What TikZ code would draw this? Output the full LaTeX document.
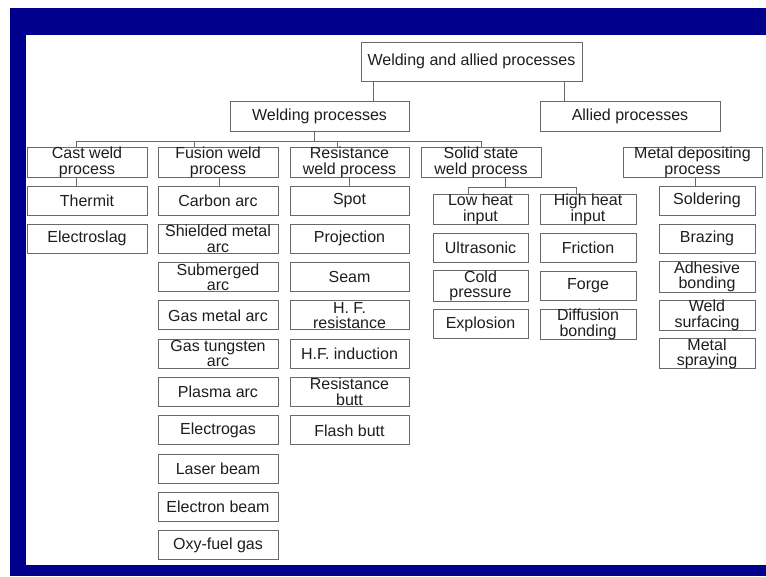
\documentclass[tikz,border=0pt]{standalone}
\usepackage{fontspec}
\setmainfont{Liberation Sans}
\usepackage{tikz}

\definecolor{slideblue}{RGB}{0,0,140}
\definecolor{boxline}{RGB}{105,105,105}
\definecolor{boxtext}{RGB}{30,30,30}

\tikzset{
  proc/.style={draw=boxline, line width=1pt, fill=white, text=boxtext,
    align=center, inner sep=0pt, minimum height=29pt, minimum width=#1,
    font=\fontsize{16}{15.5}\selectfont},
  proc/.default=120pt,
  link/.style={draw=boxline, line width=1pt}
}

\begin{document}
\begin{tikzpicture}[x=1pt, y=-1pt]
  \useasboundingbox (0,0) rectangle (766,576);
  \fill[white] (0,0) rectangle (766,576);
  % slide frame
  \fill[slideblue] (10,8) rectangle (766,35);
  \fill[slideblue] (10,8) rectangle (26,576);
  \fill[slideblue] (10,565) rectangle (766,576);

  % top levels
  \node[proc=221pt, minimum height=39pt] (top) at (471.5,61.5) {Welding and allied processes};
  \node[proc=179pt, minimum height=30pt] (wp) at (319.5,116) {Welding processes};
  \node[proc=180pt, minimum height=30pt] (ap) at (630,116) {Allied processes};

  % process groups
  \node[proc] (cast) at (87,162.5) {Cast weld\\process};
  \node[proc] (fusion) at (218,162.5) {Fusion weld\\process};
  \node[proc=119pt] (resist) at (349.5,162.5) {Resistance\\weld process};
  \node[proc] (solid) at (481,162.5) {Solid state\\weld process};
  \node[proc=139pt] (metal) at (692.5,162.5) {Metal depositing\\process};

  % cast weld
  \node[proc] (thermit) at (87,200.5) {Thermit};
  \node[proc] (eslag) at (87,238.8) {Electroslag};

  % fusion weld
  \node[proc] (carbon) at (218,200.5) {Carbon arc};
  \node[proc] (smaw) at (218,238.8) {Shielded metal\\arc};
  \node[proc] (saw) at (218,277.1) {Submerged\\arc};
  \node[proc] (gmaw) at (218,315.4) {Gas metal arc};
  \node[proc] (gtaw) at (218,353.7) {Gas tungsten\\arc};
  \node[proc] (plasma) at (218,392) {Plasma arc};
  \node[proc] (egas) at (218,430.3) {Electrogas};
  \node[proc] (laser) at (218,468.6) {Laser beam};
  \node[proc] (ebeam) at (218,506.9) {Electron beam};
  \node[proc] (oxy) at (218,545.2) {Oxy-fuel gas};

  % resistance weld
  \node[proc=119pt] (spot) at (349.5,200.5) {Spot};
  \node[proc=119pt] (proj) at (349.5,238.8) {Projection};
  \node[proc=119pt] (seam) at (349.5,277.1) {Seam};
  \node[proc=119pt] (hfres) at (349.5,315.4) {H. F.\\resistance};
  \node[proc=119pt] (hfind) at (349.5,353.7) {H.F. induction};
  \node[proc=119pt] (rbutt) at (349.5,392) {Resistance\\butt};
  \node[proc=119pt] (fbutt) at (349.5,430.3) {Flash butt};

  % solid state
  \node[proc=95pt] (low) at (480.5,209.5) {Low heat\\input};
  \node[proc=95pt] (ultra) at (480.5,247.8) {Ultrasonic};
  \node[proc=95pt] (cold) at (480.5,286.1) {Cold\\pressure};
  \node[proc=95pt] (explo) at (480.5,324.4) {Explosion};
  \node[proc=96pt] (high) at (588,209.5) {High heat\\input};
  \node[proc=96pt] (fric) at (588,247.8) {Friction};
  \node[proc=96pt] (forge) at (588,286.1) {Forge};
  \node[proc=96pt] (diff) at (588,324.4) {Diffusion\\bonding};

  % metal depositing
  \node[proc=96pt] (solder) at (707,200.5) {Soldering};
  \node[proc=96pt] (braze) at (707,238.8) {Brazing};
  \node[proc=96pt] (adhes) at (707,277.1) {Adhesive\\bonding};
  \node[proc=96pt] (wsurf) at (707,315.4) {Weld\\surfacing};
  \node[proc=96pt] (mspray) at (707,353.7) {Metal\\spraying};

  % connectors
  \draw[link] ([xshift=-98.5pt]top.south) -- ([xshift=-98.5pt]top.south |- wp.north);
  \draw[link] ([xshift=92.5pt]top.south) -- ([xshift=92.5pt]top.south |- ap.north);
  \draw[link] ([xshift=-5.5pt]wp.south) -- ++(0,10) coordinate (bus);
  \draw[link] ([xshift=-11pt]cast.north) |- (bus) -| (solid.north);
  \draw[link] ([xshift=-24pt]fusion.north) -- ([xshift=-24pt]fusion.north |- bus);
  \draw[link] ([xshift=-12.5pt]resist.north) -- ([xshift=-12.5pt]resist.north |- bus);
  \draw[link] ([xshift=-11pt]cast.south) -- ([xshift=-11pt]cast.south |- thermit.north);
  \draw[link] ([xshift=1pt]fusion.south) -- ([xshift=1pt]fusion.south |- carbon.north);
  \draw[link] (resist.south) -- (resist.south |- spot.north);
  \draw[link] ([xshift=24pt]solid.south) -- ++(0,9.5) coordinate (sbus);
  \draw[link] ([xshift=-12.5pt]low.north) |- (sbus) -| ([xshift=-12pt]high.north);
  \draw[link] ([xshift=2.5pt]metal.south) -- ([xshift=2.5pt]metal.south |- solder.north);
\end{tikzpicture}
\end{document}
